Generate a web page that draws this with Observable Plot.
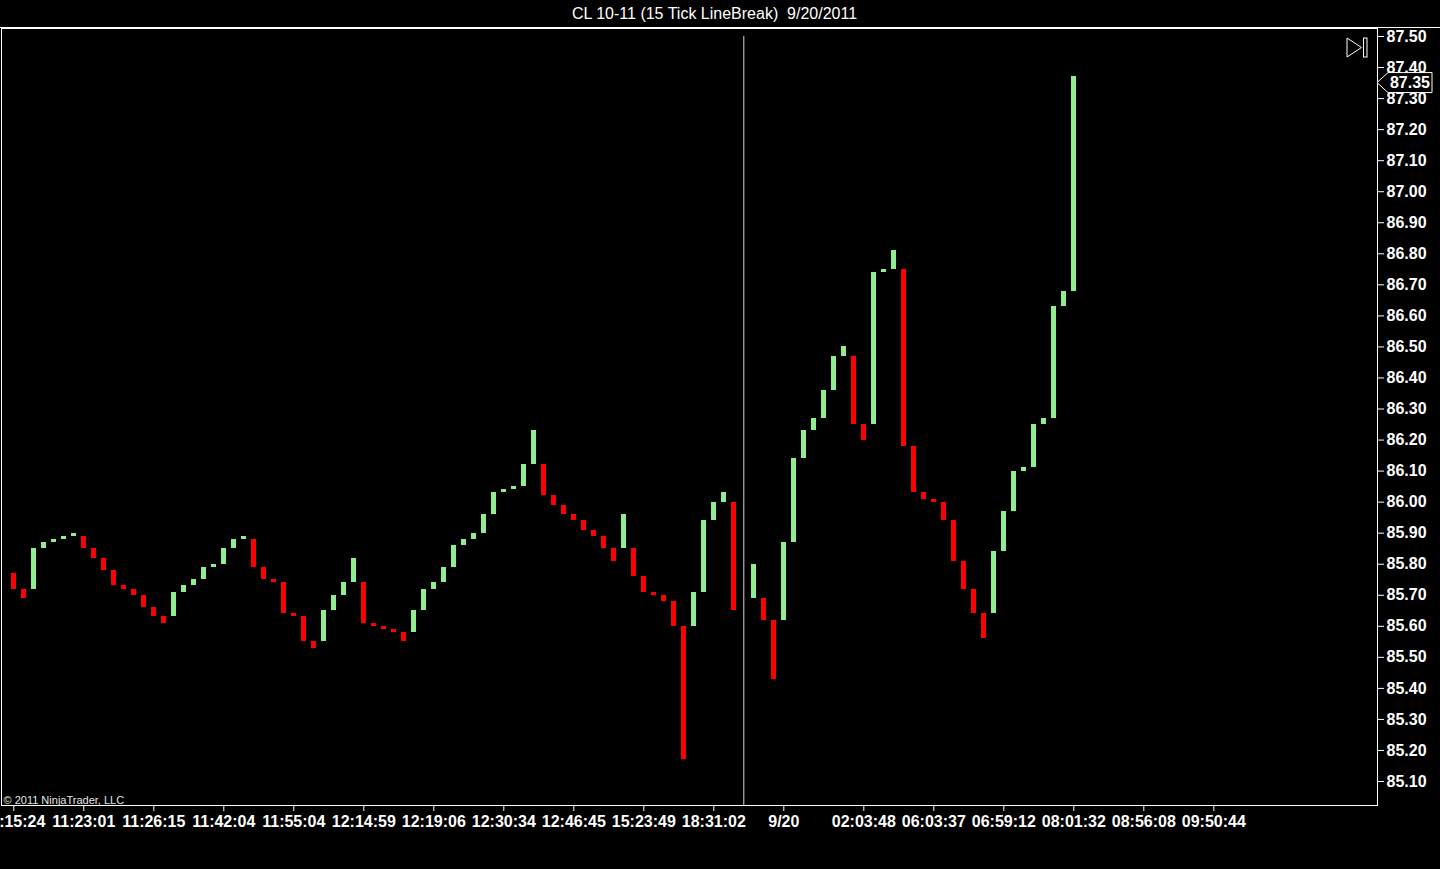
<!DOCTYPE html>
<html>
<head>
<meta charset="utf-8">
<script src="https://cdn.jsdelivr.net/npm/d3@7"></script>
<script src="https://cdn.jsdelivr.net/npm/@observablehq/plot@0.6"></script>
<style>
  html, body { margin: 0; padding: 0; background: #000; overflow: hidden; }
  #title { height: 22px; padding-top: 5px; line-height: 22px; border-bottom: 1px solid #fff; color: #fff;
           font: 16px "Liberation Sans", Arial, sans-serif; text-align: center; padding-right: 11px; box-sizing: content-box; }
  #chart svg { display: block; }
</style>
</head>
<body>
<div id="title">CL 10-11 (15 Tick LineBreak)&nbsp; 9/20/2011</div>
<div id="chart"></div>
<script>
// ---- data (one entry per bar slot; null = empty slot at session break) ----
const opens = [
  85.77, 85.72, 85.72, 85.85, 85.87, 85.88, 85.89, 85.89, 85.85, 85.82,
  85.78, 85.73, 85.72, 85.70, 85.66, 85.63, 85.63, 85.71, 85.73, 85.75,
  85.79, 85.80, 85.85, 85.88, 85.88, 85.79, 85.75, 85.74, 85.64, 85.63,
  85.55, 85.55, 85.65, 85.70, 85.74, 85.74, 85.61, 85.60, 85.59, 85.58,
  85.58, 85.65, 85.72, 85.74, 85.79, 85.86, 85.88, 85.90, 85.96, 86.03,
  86.04, 86.05, 86.12, 86.12, 86.02, 85.99, 85.96, 85.94, 85.91, 85.89,
  85.85, 85.85, 85.85, 85.76, 85.71, 85.70, 85.68, 85.60, 85.60, 85.71,
  85.94, 86.00, 86.00, null,  85.69, 85.69, 85.62, 85.62, 85.87, 86.14,
  86.23, 86.27, 86.36, 86.47, 86.47, 86.25, 86.25, 86.74, 86.75, 86.75,
  86.18, 86.03, 86.01, 86.00, 85.94, 85.81, 85.72, 85.64, 85.64, 85.84,
  85.97, 86.10, 86.11, 86.25, 86.27, 86.63, 86.68
];
const closes = [
  85.72, 85.69, 85.85, 85.87, 85.88, 85.89, 85.90, 85.85, 85.82, 85.78,
  85.73, 85.72, 85.70, 85.66, 85.63, 85.61, 85.71, 85.73, 85.75, 85.79,
  85.80, 85.85, 85.88, 85.89, 85.79, 85.75, 85.74, 85.64, 85.63, 85.55,
  85.53, 85.65, 85.70, 85.74, 85.82, 85.61, 85.60, 85.59, 85.58, 85.55,
  85.65, 85.72, 85.74, 85.79, 85.86, 85.88, 85.90, 85.96, 86.03, 86.04,
  86.05, 86.12, 86.23, 86.02, 85.99, 85.96, 85.94, 85.91, 85.89, 85.85,
  85.81, 85.96, 85.76, 85.71, 85.70, 85.68, 85.60, 85.17, 85.71, 85.94,
  86.00, 86.03, 85.65, null,  85.80, 85.62, 85.43, 85.87, 86.14, 86.23,
  86.27, 86.36, 86.47, 86.50, 86.25, 86.20, 86.74, 86.75, 86.81, 86.18,
  86.03, 86.01, 86.00, 85.94, 85.81, 85.72, 85.64, 85.56, 85.84, 85.97,
  86.10, 86.11, 86.25, 86.27, 86.63, 86.68, 87.37
];
const sessionBreakSlots = [73];
const lastPrice = 87.35;
const yTicks = [85.10, 85.20, 85.30, 85.40, 85.50, 85.60, 85.70, 85.80, 85.90, 86.00, 86.10, 86.20,
                86.30, 86.40, 86.50, 86.60, 86.70, 86.80, 86.90, 87.00, 87.10, 87.20, 87.30, 87.40, 87.50];
const xTickSlots  = [0, 7, 14, 21, 28, 35, 42, 49, 56, 63, 70, 77, 85, 92, 99, 106, 113, 120];
const xTickLabels = ["11:15:24", "11:23:01", "11:26:15", "11:42:04", "11:55:04", "12:14:59", "12:19:06",
                     "12:30:34", "12:46:45", "15:23:49", "18:31:02", "9/20", "02:03:48", "06:03:37",
                     "06:59:12", "08:01:32", "08:56:08", "09:50:44"];
const copyright = "© 2011 NinjaTrader, LLC";
const upColor = "#90EE90", downColor = "#FF0000";

// ---- table for the library ----
const bars = opens.map((o, i) => ({slot: i, open: o, close: closes[i]})).filter(d => d.open != null);

const overlay = (index, scales, values, dimensions) => {
  const ys = typeof scales.y === "function" ? scales.y : scales.scales.y.apply;
  const g = d3.create("svg:g");
  const xr = dimensions.width - dimensions.marginRight;
  const yy = ys(lastPrice);
  g.append("path")
    .attr("d", `M${xr},${yy}L${xr + 11},${yy - 10}H${xr + 55}V${yy + 10}H${xr + 11}Z`)
    .attr("fill", "black").attr("stroke", "white").attr("stroke-width", 1);
  g.append("text").attr("x", xr + 33).attr("y", yy).attr("dy", "0.36em")
    .attr("text-anchor", "middle").attr("fill", "white")
    .attr("font-size", 16).attr("font-weight", "bold").text(lastPrice.toFixed(2));
  const top = dimensions.marginTop + 10;
  g.append("path").attr("d", `M${xr - 30},${top}L${xr - 15.5},${top + 9.5}L${xr - 30},${top + 19}Z`)
    .attr("fill", "none").attr("stroke", "white");
  g.append("rect").attr("x", xr - 13.5).attr("y", top).attr("width", 3.5).attr("height", 19)
    .attr("fill", "none").attr("stroke", "white");
  return g.node();
};

const chart = Plot.plot({
  width: 1440,
  height: 841,
  marginTop: 0,
  marginLeft: 1,
  marginRight: 63,
  marginBottom: 64,
  style: {background: "black", color: "white", fontFamily: "'Liberation Sans', Arial, sans-serif"},
  x: {domain: [-1.23, 136.37], axis: null},
  y: {domain: [85.0227, 87.5258], axis: null},
  marks: [
    Plot.frame({stroke: "white"}),
    Plot.ruleX(sessionBreakSlots, {x: d => d, y1: yTicks[yTicks.length - 1], y2: 85.0227, stroke: "#d8d8d8", strokeWidth: 1}),
    Plot.ruleX(bars, {
      x: "slot", y1: "open", y2: "close",
      stroke: d => d.close > d.open ? upColor : downColor,
      strokeWidth: 5, shapeRendering: "crispEdges"
    }),
    Plot.axisY({anchor: "right", ticks: yTicks, tickFormat: d => d.toFixed(2), tickSize: 6, tickPadding: 3,
                fontSize: 16, fontWeight: "bold", label: null}),
    Plot.axisX({ticks: xTickSlots, tickFormat: d => xTickLabels[xTickSlots.indexOf(d)], tickSize: 6, tickPadding: 4,
                fontSize: 16, fontWeight: "bold", label: null}),
    Plot.text([copyright], {text: d => d, frameAnchor: "bottom-left", textAnchor: "start", dx: 2, dy: -2,
                            fontSize: 11, fill: "#e6e6e6"}),
    overlay
  ]
});
document.getElementById("chart").appendChild(chart);
</script>
</body>
</html>
